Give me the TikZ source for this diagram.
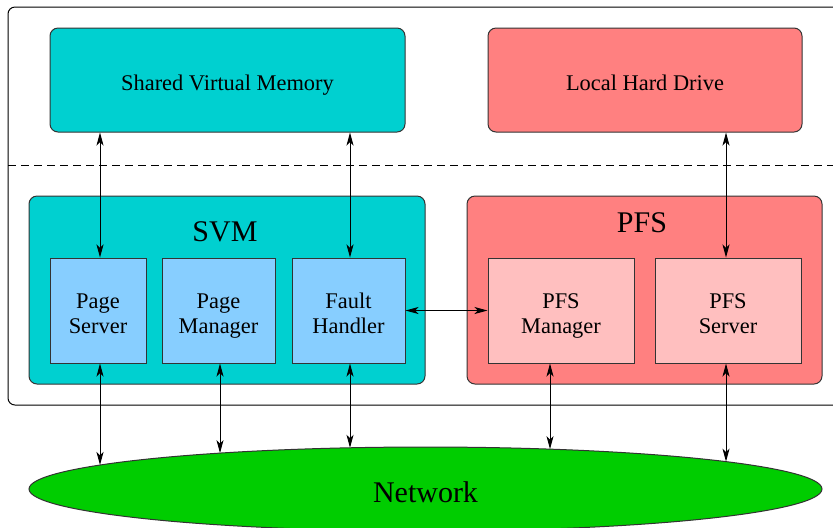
\documentclass[tikz,border=0pt]{standalone}
\usepackage{fontspec}
\setmainfont{Liberation Serif}
\usepackage{tikz}
\usetikzlibrary{arrows.meta,shapes.geometric}
\definecolor{svmcyan}{RGB}{0,208,208}
\definecolor{pfsred}{RGB}{255,128,128}
\definecolor{pfspink}{RGB}{255,191,191}
\definecolor{modblue}{RGB}{135,206,255}
\definecolor{netgreen}{RGB}{0,205,0}

\begin{document}
\begin{tikzpicture}[x=0.5pt, y=-0.5pt,
		box/.style={draw=black!80, line width=0.5pt, rounded corners=4pt, inner sep=0pt},
		topbox/.style={box, minimum height=52pt, text height=10.7pt, text depth=0pt, font=\fontsize{11.2}{12.5}\selectfont},
		modbox/.style={draw=black!80, line width=0.5pt, inner sep=0pt, minimum height=52.5pt, align=center, text height=22.5pt, text depth=0pt, font=\fontsize{11.2}{12.5}\selectfont},
		arr/.style={{Stealth[length=6.5pt,width=3.5pt,inset=1.7pt]}-{Stealth[length=6.5pt,width=3.5pt,inset=1.7pt]}, line width=0.5pt},
		title/.style={font=\fontsize{15}{18}\selectfont}]
			\useasboundingbox (0,0) rectangle (833,527);
			\draw[line width=0.5pt, rounded corners=3.5pt] (845,7) -- (8,7) -- (8,405) -- (845,405);
			\draw[dash pattern=on 4pt off 2.5pt, line width=0.5pt] (8,165) -- (833,165);
			\node[topbox, fill=svmcyan, minimum width=177.5pt] (svmem) at (227.5,80) {Shared Virtual Memory};
			\node[topbox, fill=pfsred, minimum width=157pt] (disk) at (645,80) {Local Hard Drive};
			\node[box, fill=svmcyan, minimum width=198pt, minimum height=94pt] (svm) at (227,290) {};
			\node[box, fill=pfsred, minimum width=177.5pt, minimum height=94pt] (pfs) at (644.5,290) {};
			\node[title] (svmlabel) at (225,232) {SVM};
			\node[title] (pfslabel) at (642,223) {PFS};
			\node[modbox, fill=modblue, minimum width=48pt] (pserv) at (98,310.5) {Page\\Server};
			\node[modbox, fill=modblue, minimum width=56.5pt] (pman) at (218.5,310.5) {Page\\Manager};
			\node[modbox, fill=modblue, minimum width=56.5pt] (fault) at (348.5,310.5) {Fault\\Handler};
			\node[modbox, fill=pfspink, minimum width=73pt] (pfsman) at (561,310.5) {PFS\\Manager};
			\node[modbox, fill=pfspink, minimum width=73pt] (pfsserv) at (728,310.5) {PFS\\Server};
			\node[ellipse, draw=black!80, line width=0.5pt, fill=netgreen, inner sep=0pt, minimum width=396.5pt, minimum height=42pt, text height=13pt, text depth=0pt, title] (net) at (425.5,489) {Network};
			\coordinate (netA) at ([shift={(-325.5,-24)}]net.center);
			\coordinate (netB) at ([shift={(-205.5,-35.9)}]net.center);
			\coordinate (netC) at ([shift={(-75.5,-41.2)}]net.center);
			\coordinate (netD) at ([shift={(124.5,-39.9)}]net.center);
			\coordinate (netE) at ([shift={(300.5,-27.4)}]net.center);
			\draw[arr] ([xshift=1pt]pserv.north |- svmem.south) -- ([xshift=1pt]pserv.north);
			\draw[arr] ([xshift=0.75pt]fault.north |- svmem.south) -- ([xshift=0.75pt]fault.north);
			\draw[arr] ([xshift=-1pt]pfsserv.north |- disk.south) -- ([xshift=-1pt]pfsserv.north);
			\draw[arr] (fault.east) -- (pfsman.west);
			\draw[arr] (pserv.south -| netA) -- (netA);
			\draw[arr] (pman.south -| netB) -- (netB);
			\draw[arr] (fault.south -| netC) -- (netC);
			\draw[arr] (pfsman.south -| netD) -- (netD);
			\draw[arr] (pfsserv.south -| netE) -- (netE);
		\end{tikzpicture}
\end{document}
